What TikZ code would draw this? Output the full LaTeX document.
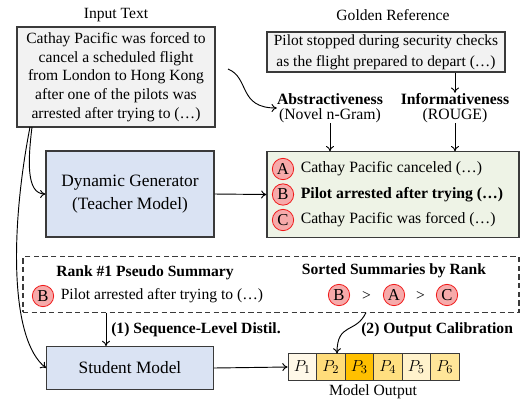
\documentclass[tikz,border=0pt]{standalone}
\usepackage{fontspec}
\setmainfont{Liberation Serif}
\usetikzlibrary{arrows.meta}
\definecolor{ingray}{HTML}{F2F2F2}
\definecolor{boxline}{HTML}{3A3A3A}
\definecolor{dgblue}{HTML}{DAE3F3}
\definecolor{candgreen}{HTML}{EEF3E6}
\definecolor{circfill}{HTML}{F6AAAA}
\definecolor{circline}{HTML}{F01818}
\definecolor{cA}{HTML}{FFF8E8}
\definecolor{cB}{HTML}{FFDC7A}
\definecolor{cC}{HTML}{FFC000}
\definecolor{cD}{HTML}{FFDF80}
\definecolor{cE}{HTML}{FFF2CC}
\definecolor{cF}{HTML}{FFE699}
\tikzset{
  x=0.75pt, y=-0.75pt,
  every node/.style={font=\fontsize{11.7}{14}\selectfont},
  txt/.style={inner sep=0pt, align=center},
  inbox/.style={draw=boxline, line width=0.8pt, fill=ingray, align=center, inner sep=0pt},
  modelbox/.style={draw=boxline, line width=0.8pt, fill=dgblue, align=center, inner sep=0pt, font=\fontsize{13}{17}\selectfont},
  candbox/.style={draw=boxline, line width=0.8pt, fill=candgreen, inner sep=0pt},
  candtxt/.style={inner sep=0pt, anchor=west, font=\fontsize{11.8}{14}\selectfont},
  dashbox/.style={draw=boxline, line width=0.8pt, dashed, dash pattern=on 4pt off 2.5pt, inner sep=0pt},
  circ/.style={circle, draw=circline, line width=0.6pt, fill=circfill, inner sep=0pt, minimum size=16pt, font=\fontsize{12.5}{14}\selectfont},
  cell/.style={draw=boxline, line width=0.6pt, minimum width=21.4pt, minimum height=20pt, inner sep=0pt, font=\fontsize{13}{14}\selectfont},
  arr/.style={-{To[length=4pt,width=6pt]}, line width=0.7pt, black},
}
\begin{document}
\begin{tikzpicture}
\useasboundingbox (0,0) rectangle (532,405);
% titles
\node[txt] (intitle) at (116,15) {Input Text};
\node[txt] (goldtitle) at (393,15) {Golden Reference};
% input box
\node[inbox, minimum width=148.5pt, minimum height=75pt] (input) at (116,77)
  {Cathay Pacific was forced to\\cancel a scheduled flight\\from London to Hong Kong\\after one of the pilots was\\arrested after trying to (\dots)};
% golden box
\node[inbox, minimum width=178.5pt, minimum height=30pt, font=\fontsize{11.6}{16}\selectfont] (gold) at (386,52)
  {Pilot stopped during security checks\\as the flight prepared to depart (\dots)};
% metrics
\node[txt, font=\fontsize{11.8}{11.5}\selectfont] (abs) at (330,108) {\textbf{Abstractiveness}\\(Novel n-Gram)};
\node[txt, font=\fontsize{11.8}{11.5}\selectfont] (inf) at (455,108) {\textbf{Informativeness}\\(ROUGE)};
% candidates
\node[candbox, minimum width=189pt, minimum height=64pt] (cand) at (393,194.5) {};
\node[circ] (ca) at (283,169) {A};
\node[circ] (cb) at (283,194.5) {B};
\node[circ] (cc) at (283,220) {C};
\node[candtxt] (ta) at (300.5,169) {Cathay Pacific canceled (\dots)};
\node[candtxt] (tb) at (300.5,194.5) {\textbf{Pilot arrested after trying (\dots)}};
\node[candtxt] (tc) at (300.5,220) {Cathay Pacific was forced (\dots)};
% dynamic generator
\node[modelbox, minimum width=126pt, minimum height=64.5pt] (dg) at (130,194)
  {Dynamic Generator\\(Teacher Model)};
% dashed box
\node[dashbox, minimum width=372pt, minimum height=41.5pt] (dash) at (271,284.5) {};
\node[txt] (ranktitle) at (145,273) {\textbf{Rank \#1 Pseudo Summary}};
\node[circ] (rb) at (43,296) {B};
\node[txt, anchor=west] (rt) at (60.5,296) {Pilot arrested after trying to (\dots)};
\node[txt] (sorttitle) at (394,271) {\textbf{Sorted Summaries by Rank}};
\node[circ] (sb) at (339,295) {B};
\node[txt] (gt1) at (366.5,296) {>};
\node[circ] (sa) at (394,295) {A};
\node[txt] (gt2) at (420.5,296) {>};
\node[circ] (sc) at (447,295) {C};
% student
\node[modelbox, minimum width=125pt, minimum height=32pt] (stu) at (130,368) {Student Model};
% cells
\node[cell, fill=cA] (p1) at (302.3,367) {$P_1$};
\node[cell, fill=cB] (p2) at (330.8,367) {$P_2$};
\node[cell, fill=cC] (p3) at (359.3,367) {$P_3$};
\node[cell, fill=cD] (p4) at (387.8,367) {$P_4$};
\node[cell, fill=cE] (p5) at (416.3,367) {$P_5$};
\node[cell, fill=cF] (p6) at (444.8,367) {$P_6$};
\node[txt] (mo) at (373,392) {Model Output};
% arrows
\draw[arr] (gold.south -| inf.north) -- (inf.north);
\draw[arr] (abs.south) -- (abs.south |- cand.north);
\draw[arr] (inf.south) -- (inf.south |- cand.north);
\draw[arr] (dg.east) -- (cand.west);
\coordinate (wstart) at (228,69);
\draw[arr] (wstart) .. controls (250,78) and (238,108) .. (abs.west);
\coordinate (l1) at (32,127);
\coordinate (l2) at (30,127);
\draw[arr] (l1) .. controls (28,160) and (26,194) .. (dg.west);
\draw[arr] (l2) .. controls (10,230) and (10,340) .. (stu.west);
\draw[arr] (dash.south -| stu.north) ++(-24,0) coordinate (d1) -- (d1 |- stu.north);
\node[txt, anchor=west] (l1lbl) at (111,330) {\textbf{(1) Sequence-Level Distil.}};
\coordinate (d2) at (366,312.5);
\coordinate (c2) at (337,353.5);
\draw[arr] (d2) .. controls (356,334) and (337,322) .. (c2);
\node[txt, anchor=west] (l2lbl) at (361,330) {\textbf{(2) Output Calibration}};
\draw[arr] (stu.east) -- (p1.west);
\end{tikzpicture}
\end{document}
